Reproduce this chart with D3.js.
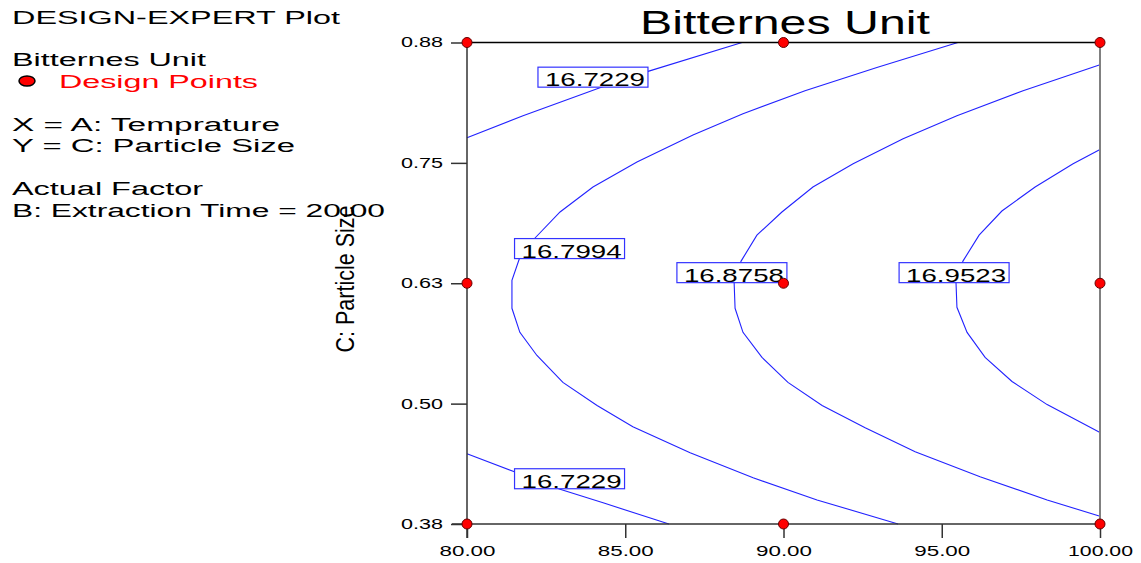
<!DOCTYPE html>
<html>
<head>
<meta charset="utf-8">
<script src="https://cdn.jsdelivr.net/npm/d3@7"></script>
<style>
body { margin: 0; background: #fff; }
text { font-family: "Liberation Sans", Arial, sans-serif; }
</style>
</head>
<body>
<svg width="1141" height="563"></svg>
<script>
// x = A: Temprature, y = C: Particle Size
var xTicks = [80, 85, 90, 95, 100];
var xTickLabels = ["80.00", "85.00", "90.00", "95.00", "100.00"];
var yTicks = [0.38, 0.505, 0.63, 0.755, 0.88];
var yTickLabels = ["0.38", "0.50", "0.63", "0.75", "0.88"];

var designX = [80, 80, 80, 90, 90, 90, 100, 100, 100];
var designY = [0.38, 0.63, 0.88, 0.38, 0.63, 0.88, 0.38, 0.63, 0.88];

// contour lines, [temp, size]
var c7229top = [[80.00, 0.781], [81.77, 0.804], [84.20, 0.833], [85.72, 0.850], [88.69, 0.88]];
var c7229bot = [[80.00, 0.453], [81.52, 0.434], [82.94, 0.416], [84.30, 0.402], [86.38, 0.38]];
var c7994 = [[95.51, 0.88], [92.95, 0.854], [90.68, 0.830], [88.72, 0.806], [87.14, 0.784], [85.37, 0.756],
  [83.98, 0.730], [82.94, 0.704], [82.15, 0.677], [81.67, 0.657], [81.42, 0.633], [81.42, 0.604],
  [81.67, 0.579], [82.21, 0.555], [83.03, 0.527], [84.11, 0.503], [85.24, 0.481], [87.05, 0.454],
  [89.04, 0.428], [91.06, 0.405], [93.62, 0.38]];
var c8758 = [[100, 0.857], [97.57, 0.830], [95.48, 0.804], [93.78, 0.780], [92.20, 0.754], [90.93, 0.730],
  [89.95, 0.704], [89.16, 0.680], [88.66, 0.653], [88.44, 0.631], [88.47, 0.604], [88.72, 0.579],
  [89.32, 0.553], [90.14, 0.527], [91.22, 0.503], [92.58, 0.480], [94.16, 0.455], [96.21, 0.429],
  [98.33, 0.405], [100, 0.388]];
var c9523 = [[100, 0.769], [99.15, 0.754], [97.95, 0.730], [96.90, 0.705], [96.18, 0.680], [95.67, 0.653],
  [95.45, 0.631], [95.48, 0.605], [95.80, 0.579], [96.37, 0.553], [97.22, 0.528], [98.33, 0.504], [100, 0.475]];

var contours = [c7229top, c7229bot, c7994, c8758, c9523];

// label boxes: text and where they sit
var labelText = ["16.7229", "16.7229", "16.7994", "16.8758", "16.9523"];
var labelX = [83.98, 83.24, 83.24, 88.37, 95.39];
var labelY = [0.844, 0.427, 0.666, 0.641, 0.641];

var svg = d3.select("svg");

var x = d3.scaleLinear().domain([80, 100]).range([467, 1100]);
var y = d3.scaleLinear().domain([0.38, 0.88]).range([524, 42.5]);

// contour lines
var line = d3.line().x(function(d) { return x(d[0]); }).y(function(d) { return y(d[1]); });
svg.append("g").selectAll("path").data(contours).enter()
  .append("path")
  .attr("d", line)
  .attr("fill", "none")
  .attr("stroke", "#2222ff")
  .attr("stroke-width", 1.1);

// labels on the contours
var labels = svg.append("g").selectAll("g").data(labelText).enter().append("g")
  .attr("transform", function(d, i) { return "translate(" + x(labelX[i]) + "," + y(labelY[i]) + ")"; });
labels.append("rect")
  .attr("x", -55).attr("y", -10).attr("width", 110).attr("height", 20)
  .attr("fill", "#fff").attr("stroke", "#3333ff").attr("stroke-width", 1.2);
labels.append("text")
  .attr("x", -48).attr("y", 9)
  .attr("textLength", 100).attr("lengthAdjust", "spacingAndGlyphs")
  .style("font-size", "19px")
  .text(function(d) { return d; });

// axes
var xAxis = d3.axisBottom(x).tickValues(xTicks).tickSize(14).tickPadding(7)
  .tickFormat(function(d, i) { return xTickLabels[i]; });
var yAxis = d3.axisLeft(y).tickValues(yTicks).tickSize(16).tickPadding(8)
  .tickFormat(function(d, i) { return yTickLabels[i]; });

var gx = svg.append("g").attr("transform", "translate(0,524)").call(xAxis);
var gy = svg.append("g").attr("transform", "translate(467,0)").call(yAxis);
gx.select(".domain").remove();
gy.select(".domain").remove();
gx.selectAll("line").attr("stroke", "#333").attr("stroke-width", 1.5);
gy.selectAll("line").attr("stroke", "#333").attr("stroke-width", 1.5);
gx.selectAll("text").attr("fill", "#000").style("font-size", "15px").style("font-family", "Liberation Sans, Arial, sans-serif")
  .attr("textLength", function(d, i) { return xTickLabels[i].length > 5 ? 65 : 56; })
  .attr("lengthAdjust", "spacingAndGlyphs");
gy.selectAll("text").attr("fill", "#000").style("font-size", "14px").style("font-family", "Liberation Sans, Arial, sans-serif")
  .attr("textLength", 42).attr("lengthAdjust", "spacingAndGlyphs");

// frame
svg.append("line").attr("x1", 467).attr("x2", 1100).attr("y1", 42.5).attr("y2", 42.5)
  .attr("stroke", "#000").attr("stroke-width", 1.5);
svg.append("line").attr("x1", 1100).attr("x2", 1100).attr("y1", 42.5).attr("y2", 524)
  .attr("stroke", "#808080").attr("stroke-width", 2);
svg.append("line").attr("x1", 467).attr("x2", 467).attr("y1", 42.5).attr("y2", 538)
  .attr("stroke", "#333").attr("stroke-width", 1.5);
svg.append("line").attr("x1", 452).attr("x2", 1100).attr("y1", 524).attr("y2", 524)
  .attr("stroke", "#333").attr("stroke-width", 1.5);

// design points
svg.append("g").selectAll("circle").data(designX).enter()
  .append("circle")
  .attr("cx", function(d) { return x(d); })
  .attr("cy", function(d, i) { return y(designY[i]); })
  .attr("r", 5)
  .attr("fill", "#ff0000")
  .attr("stroke", "#600").attr("stroke-width", 1);

// title
svg.append("text")
  .attr("x", 640).attr("y", 34)
  .attr("textLength", 290).attr("lengthAdjust", "spacingAndGlyphs")
  .style("font-size", "33px")
  .text("Bitternes Unit");

// y axis title, squeezed like the original export
svg.append("text")
  .attr("transform", "translate(354,279) rotate(-90)")
  .attr("text-anchor", "middle")
  .attr("textLength", 147).attr("lengthAdjust", "spacingAndGlyphs")
  .style("font-size", "25px")
  .text("C: Particle Size");

// left side notes
var notes = [
  { t: "DESIGN-EXPERT Plot", x: 12, y: 24, w: 328 },
  { t: "Bitternes Unit", x: 12, y: 66, w: 194 },
  { t: "X = A: Temprature", x: 12, y: 131, w: 268 },
  { t: "Y = C: Particle Size", x: 12, y: 152, w: 283 },
  { t: "Actual Factor", x: 12, y: 195, w: 191 },
  { t: "B: Extraction Time = 20.00", x: 12, y: 217, w: 373 }
];
svg.append("g").selectAll("text").data(notes).enter()
  .append("text")
  .attr("x", function(d) { return d.x; })
  .attr("y", function(d) { return d.y; })
  .attr("textLength", function(d) { return d.w; })
  .attr("lengthAdjust", "spacingAndGlyphs")
  .style("font-size", "18px")
  .text(function(d) { return d.t; });

svg.append("ellipse").attr("cx", 27).attr("cy", 81).attr("rx", 8).attr("ry", 5)
  .attr("fill", "#ff0000").attr("stroke", "#000").attr("stroke-width", 1.5);
svg.append("text")
  .attr("x", 59).attr("y", 88)
  .attr("textLength", 199).attr("lengthAdjust", "spacingAndGlyphs")
  .attr("fill", "#ff0000")
  .style("font-size", "18px")
  .text("Design Points");
</script>
</body>
</html>
